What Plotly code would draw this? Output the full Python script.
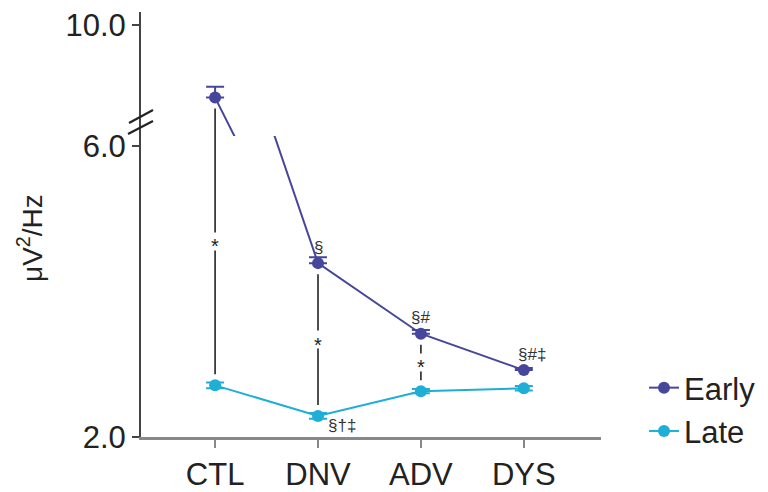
import plotly.graph_objects as go

# ---------------- data ----------------
categories = ["CTL", "DNV", "ADV", "DYS"]
early = [8.53, 4.39, 3.42, 2.92]
early_err = [0.22, 0.08, 0.05, 0.03]
late = [2.71, 2.29, 2.63, 2.67]
late_err = [0.04, 0.04, 0.03, 0.03]
early_marks = ["", "§", "§#", "§#‡"]
late_marks = ["", "§†‡", "", ""]
sig_marks = ["*", "*", "*", ""]
y_low_ticks = [2.0, 6.0]
y_high_ticks = [10.0]

# ---------------- layout geometry ----------------
W, H = 768, 492
ML, MR, MT, MB = 141, 167, 12, 55
PW = W - ML - MR
PH = H - MT - MB
BOTTOM_PX = H - MB          # pixel row of the x axis
SPLIT_PX = 136              # pixel row where the axis breaks
split = (BOTTOM_PX - SPLIT_PX) / PH
lo_range = [2.0, 6.1375]
hi_range = [7.753, 10.263]
lo_scale = (BOTTOM_PX - SPLIT_PX) / (lo_range[1] - lo_range[0])
hi_scale = (SPLIT_PX - MT) / (hi_range[1] - hi_range[0])

EARLY_C = "#46469a"
LATE_C = "#1eaed6"
FONT = "Liberation Sans, Arial, sans-serif"


def to_px(v):
    if v >= hi_range[0]:
        return SPLIT_PX - (v - hi_range[0]) * hi_scale
    return BOTTOM_PX - (v - lo_range[0]) * lo_scale


def px_to_lo(p):
    return lo_range[0] + (BOTTOM_PX - p) / lo_scale


def px_to_hi(p):
    return hi_range[0] + (SPLIT_PX - p) / hi_scale


fig = go.Figure()

# significance connectors (drawn in both panels, clipped by each)
OFF, GAP = 11, 9
annotations = []
for i, mark in enumerate(sig_marks):
    if not mark:
        continue
    pE, pL = to_px(early[i]), to_px(late[i])
    pS = (pE + pL) / 2
    pix = [pL - OFF, pS + GAP, None, pS - GAP, pE + OFF]
    for conv, yax in ((px_to_lo, "y"), (px_to_hi, "y2")):
        fig.add_trace(go.Scatter(
            x=[categories[i]] * 5,
            y=[None if p is None else conv(p) for p in pix],
            mode="lines", line=dict(color="#222222", width=1.6),
            yaxis=yax, showlegend=False, hoverinfo="skip",
        ))
    annotations.append(dict(
        x=categories[i], y=px_to_lo(pS), xref="x", yref="y", text=mark,
        showarrow=False, font=dict(family=FONT, size=20, color="#222222"),
        yshift=-5,
    ))

# Early series in both panels
for yax, show in (("y", True), ("y2", False)):
    fig.add_trace(go.Scatter(
        x=categories, y=early, name="Early", mode="lines+markers",
        line=dict(color=EARLY_C, width=2),
        marker=dict(color=EARLY_C, size=12),
        error_y=dict(type="data", array=early_err, arrayminus=[0] * 4,
                     color=EARLY_C, thickness=2, width=9),
        yaxis=yax, showlegend=show, legendrank=1,
    ))

fig.add_trace(go.Scatter(
    x=categories, y=late, name="Late", mode="lines+markers",
    line=dict(color=LATE_C, width=2),
    marker=dict(color=LATE_C, size=12),
    error_y=dict(type="data", array=late_err, color=LATE_C, thickness=2, width=9),
    yaxis="y", showlegend=True, legendrank=2,
))

for i, m in enumerate(early_marks):
    if m:
        annotations.append(dict(
            x=categories[i], y=early[i], xref="x", yref="y", text=m,
            showarrow=False, font=dict(family=FONT, size=17, color="#333333"),
            yshift=16, xshift=8 if i == 3 else 0,
        ))
for i, m in enumerate(late_marks):
    if m:
        annotations.append(dict(
            x=categories[i], y=late[i], xref="x", yref="y", text=m,
            showarrow=False, font=dict(family=FONT, size=17, color="#333333"),
            yshift=-10, xshift=24,
        ))

# y axis title
annotations.append(dict(
    x=(30 - ML) / PW, y=(BOTTOM_PX - 238) / PH, xref="paper", yref="paper",
    xanchor="center", yanchor="middle",
    text="μV<sup>2</sup>/Hz", textangle=-90, showarrow=False,
    font=dict(family=FONT, size=28, color="#222222"),
))


def pp(x, y):
    return (x - ML) / PW, (BOTTOM_PX - y) / PH


shapes = []
for (x0, y0, x1, y1) in ((129, 123, 153, 110), (128, 134, 153, 121)):
    a, b = pp(x0, y0)
    c, d = pp(x1, y1)
    shapes.append(dict(type="line", xref="paper", yref="paper",
                       x0=a, y0=b, x1=c, y1=d,
                       line=dict(color="#222222", width=2.2)))

fig.update_layout(
    width=W, height=H,
    margin=dict(l=ML, r=MR, t=MT, b=MB, pad=0, autoexpand=False),
    paper_bgcolor="white", plot_bgcolor="white",
    font=dict(family=FONT, size=30, color="#222222"),
    xaxis=dict(
        type="category", categoryorder="array", categoryarray=categories,
        range=[-0.72, 3.75], showline=True, linecolor="#888888", linewidth=3,
        ticks="outside", ticklen=8, tickwidth=2, tickcolor="#888888",
        showgrid=False, zeroline=False, anchor="y", automargin=False,
        tickfont=dict(size=31, family=FONT, color="#222222"),
    ),
    yaxis=dict(
        domain=[0, split], range=lo_range, tickvals=y_low_ticks,
        ticktext=[f"{v:.1f}" for v in y_low_ticks],
        showline=True, linecolor="#444444", linewidth=2,
        ticks="outside", ticklen=7, tickwidth=2, tickcolor="#444444",
        showgrid=False, zeroline=False, anchor="x", automargin=False,
        tickfont=dict(size=31, family=FONT, color="#222222"),
    ),
    yaxis2=dict(
        domain=[split, 1], range=hi_range, tickvals=y_high_ticks,
        ticktext=[f"{v:.1f}" for v in y_high_ticks],
        showline=True, linecolor="#444444", linewidth=2,
        ticks="outside", ticklen=7, tickwidth=2, tickcolor="#444444",
        showgrid=False, zeroline=False, anchor="x", automargin=False,
        tickfont=dict(size=31, family=FONT, color="#222222"),
    ),
    legend=dict(
        x=(644 - ML) / PW, y=(BOTTOM_PX - 361) / PH, xanchor="left", yanchor="top",
        font=dict(size=31, family=FONT, color="#222222"),
        bgcolor="rgba(0,0,0,0)", tracegroupgap=0,
    ),
    annotations=annotations,
    shapes=shapes,
    showlegend=True,
)

fig.write_html("out.html")
